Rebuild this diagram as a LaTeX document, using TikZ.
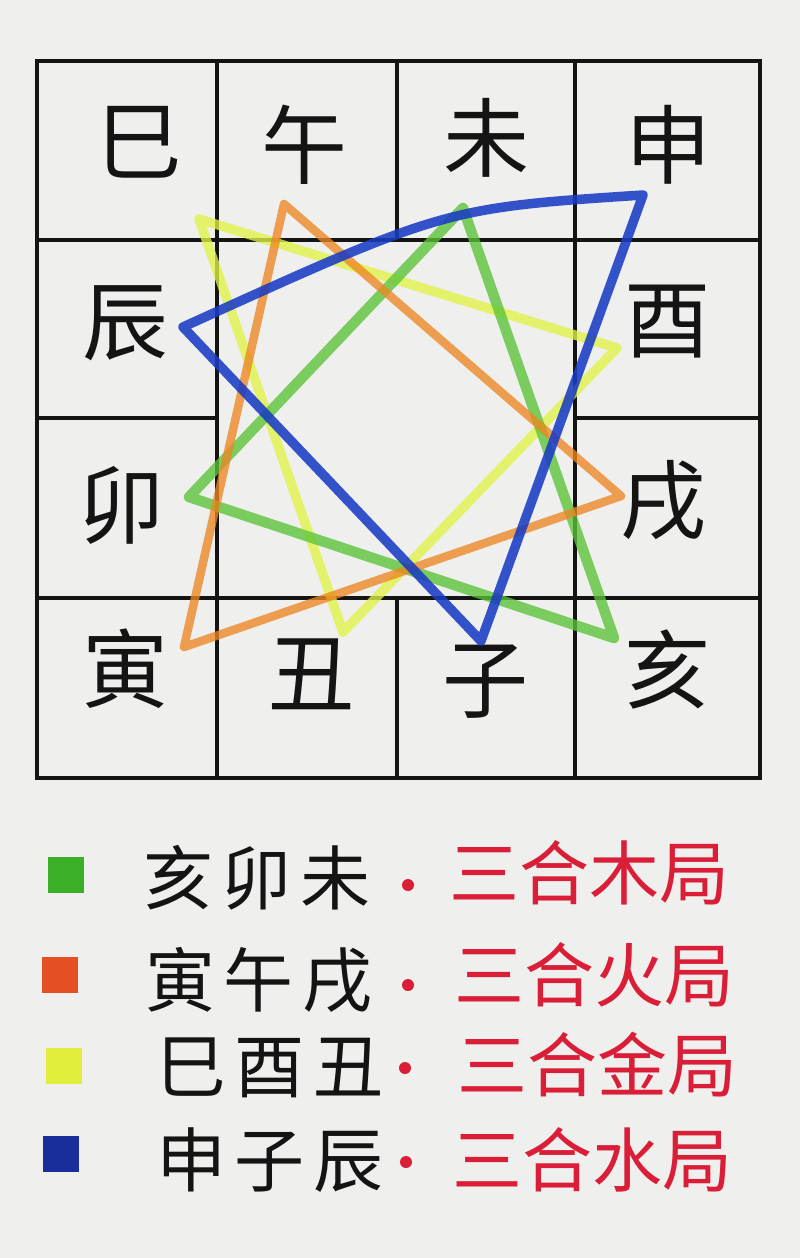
\documentclass[tikz,border=0pt]{standalone}
\usepackage{fontspec}
\newfontfamily\cjk{Noto Sans CJK SC}
\definecolor{paper}{RGB}{239,239,238}
\definecolor{ink}{RGB}{20,20,20}
\definecolor{mgreen}{RGB}{90,195,55}
\definecolor{morange}{RGB}{236,135,35}
\definecolor{myellow}{RGB}{225,242,70}
\definecolor{mblue}{RGB}{25,60,195}
\definecolor{sqgreen}{RGB}{60,175,40}
\definecolor{sqorange}{RGB}{228,80,35}
\definecolor{sqyellow}{RGB}{225,238,60}
\definecolor{sqblue}{RGB}{25,45,155}
\definecolor{mred}{RGB}{218,30,55}
\tikzset{
  gridline/.style={draw=ink,line width=3.2pt,line cap=round},
  cell/.style={font=\cjk\fontsize{86}{86}\selectfont,text=ink,inner sep=0pt},
  tri/.style={line width=9.5pt,line join=round,line cap=round,opacity=0.78},
  legsq/.style={rectangle,minimum width=36pt,minimum height=36pt,inner sep=0pt},
  legtxt/.style={font=\cjk\fontsize{70}{70}\selectfont\addfontfeatures{LetterSpace=12},text=ink,inner sep=0pt},
  legred/.style={font=\cjk\fontsize{70}{70}\selectfont,text=mred,inner sep=0pt},
  legdot/.style={circle,fill=mred,minimum size=12pt,inner sep=0pt},
}
\begin{document}
\begin{tikzpicture}[x=1pt,y=-1pt]
\fill[paper] (0,0) rectangle (800,1258);
\useasboundingbox (0,0) rectangle (800,1258);
% grid
\draw[gridline] (37,61) rectangle (760,778);
\draw[gridline] (37,240) -- (760,240);
\draw[gridline] (37,598) -- (760,598);
\draw[gridline] (37,418) -- (217,418);
\draw[gridline] (575,418) -- (760,418);
\draw[gridline] (217,61) -- (217,778);
\draw[gridline] (575,61) -- (575,778);
\draw[gridline] (397,61) -- (397,240);
\draw[gridline] (397,598) -- (397,778);
% cell characters
\node[cell] (si) at (139,142) {巳};
\node[cell] (wu) at (304,145) {午};
\node[cell] (wei) at (486,138) {未};
\node[cell] (shen) at (668,145) {申};
\node[cell] (chen) at (125,323) {辰};
\node[cell] (you) at (667,322) {酉};
\node[cell] (mao) at (121,505) {卯};
\node[cell] (xu) at (663,501) {戌};
\node[cell] (yin) at (125,669) {寅};
\node[cell] (chou) at (311,674) {丑};
\node[cell] (zi) at (485,682) {子};
\node[cell] (hai) at (667,670) {亥};
% triangle vertices
\coordinate (pWu) at (284,204);
\coordinate (pWei) at (463,208);
\coordinate (pShen) at (643,195);
\coordinate (pSi) at (199,219);
\coordinate (pChen) at (183,327);
\coordinate (pYou) at (617,348);
\coordinate (pMao) at (189,497);
\coordinate (pXu) at (621,496);
\coordinate (pYin) at (184,647);
\coordinate (pChou) at (343,632);
\coordinate (pZi) at (481,641);
\coordinate (pHai) at (614,638);
% triangles
\draw[tri,myellow] (pSi) -- (pYou) -- (pChou) -- cycle;
\draw[tri,mgreen,line width=10.5pt] (pWei) -- (pMao) -- (pHai) -- cycle;
\draw[tri,morange,line width=8.5pt] (pWu) -- (pXu) -- (pYin) -- cycle;
\draw[tri,mblue,opacity=0.88] (pShen) .. controls (445,208) .. (pChen) -- (pZi) -- cycle;
% legend
\node[legsq,fill=sqgreen] (sq1) at (66,875) {};
\node[legsq,fill=sqorange] (sq2) at (60,975) {};
\node[legsq,fill=sqyellow] (sq3) at (64,1066) {};
\node[legsq,fill=sqblue] (sq4) at (61,1154) {};
\node[legtxt,anchor=west] (t1) at (143,878) {亥卯未};
\node[legtxt,anchor=west] (t2) at (145,980) {寅午戌};
\node[legtxt,anchor=west] (t3) at (156,1068) {巳酉丑};
\node[legtxt,anchor=west] (t4) at (156,1160) {申子辰};
\node[legdot] (d1) at (408,885) {};
\node[legdot] (d2) at (408,985) {};
\node[legdot] (d3) at (405,1068) {};
\node[legdot] (d4) at (406,1162) {};
\node[legred,anchor=west] (r1) at (449,873) {三合木局};
\node[legred,anchor=west] (r2) at (454,975) {三合火局};
\node[legred,anchor=west] (r3) at (457,1065) {三合金局};
\node[legred,anchor=west] (r4) at (452,1160) {三合水局};
\end{tikzpicture}
\end{document}
